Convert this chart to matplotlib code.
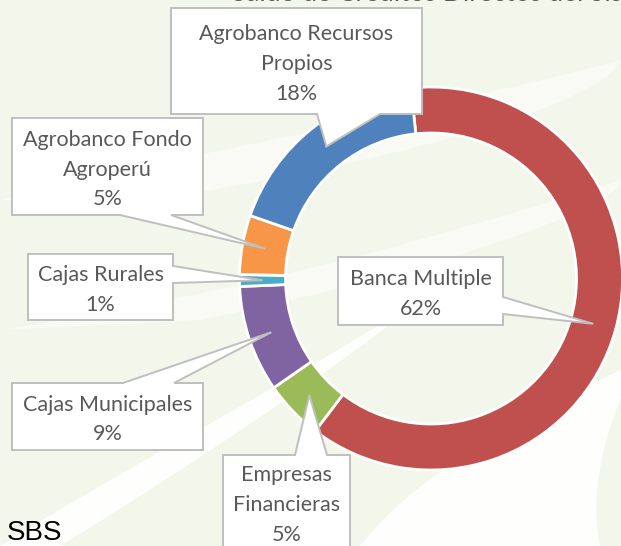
import matplotlib
matplotlib.use('Agg')
import numpy as np
from matplotlib import pyplot as plt
from matplotlib.patches import Polygon, PathPatch
from matplotlib.path import Path

# data
segments = ['Banca Multiple', 'Empresas\nFinancieras', 'Cajas Municipales',
            'Cajas Rurales', 'Agrobanco Fondo\nAgroperú', 'Agrobanco Recursos\nPropios']
shares = [62, 5, 9, 1, 5, 18]
colors = ['#C0504D', '#9BBB59', '#8064A2', '#4BACC6', '#F79646', '#4F81BD']
title_text = 'Saldo de Créditos Directos del Sistema'
source_text = 'SBS'

W, H = 621, 546

# callout boxes in pixel coords (left, top, right, bottom), side of pointer, pointer base
boxes = [
    ((338, 257, 503, 325), 'right', (297, 314)),
    ((223, 455, 350, 549), 'top', (295, 327)),
    ((12, 383, 203, 450), 'top', (123, 174)),
    ((28, 254, 173, 320), 'right', (266, 283)),
    ((12, 118, 203, 215), 'bottom', (120, 171)),
    ((171, 8, 422, 114), 'bottom', (317, 380)),
]

fig = plt.figure(figsize=(W / 100, H / 100), dpi=100)
fig.patch.set_facecolor('#F3F6EA')
ax = fig.add_axes([0, 0, 1, 1])


def fy(y):
    # pixel row -> axes y
    return H - y


# soft white swooshes in the background
def band(pts, alpha):
    verts = [(x, fy(y)) for x, y in pts]
    codes = [Path.MOVETO] + [Path.CURVE4] * (len(verts) - 2) + [Path.CLOSEPOLY]
    ax.add_patch(PathPatch(Path(verts, codes), fc='white', ec='none', alpha=alpha, zorder=0))


band([(0, 546), (120, 470), (260, 400), (420, 300), (400, 320), (250, 430), (60, 546), (0, 546)], 0.95)
band([(360, 546), (420, 470), (520, 420), (640, 360), (600, 430), (590, 500), (600, 546), (360, 546)], 0.95)
band([(0, 200), (150, 160), (350, 130), (621, 60), (600, 110), (350, 170), (150, 200), (0, 200)], 0.5)
band([(0, 330), (200, 300), (400, 250), (621, 180), (621, 210), (400, 280), (200, 320), (0, 330)], 0.5)

cx, cy = 431, fy(278.5)
r_out = 191.5
ring = 46
wedges, _ = ax.pie(shares, colors=colors, startangle=96, counterclock=False,
                   center=(cx, cy), radius=r_out, frame=True,
                   wedgeprops=dict(width=ring, edgecolor='white', linewidth=2))
ax.set_xlim(0, W)
ax.set_ylim(0, H)
ax.set_aspect('equal')
ax.axis('off')

r_mid = r_out - ring / 2
for w, name, share, (box, side, base) in zip(wedges, segments, shares, boxes):
    ang = np.deg2rad((w.theta1 + w.theta2) / 2)
    tip = (cx + r_mid * np.cos(ang), cy + r_mid * np.sin(ang))
    x0, y0, x1, y1 = box
    a, b = base
    if side == 'top':
        pts = [(x0, y0), (a, y0), None, (b, y0), (x1, y0), (x1, y1), (x0, y1)]
    elif side == 'right':
        pts = [(x0, y0), (x1, y0), (x1, a), None, (x1, b), (x1, y1), (x0, y1)]
    else:
        pts = [(x0, y0), (x1, y0), (x1, y1), (b, y1), None, (a, y1), (x0, y1)]
    verts = [tip if p is None else (p[0], fy(p[1])) for p in pts]
    ax.add_patch(Polygon(verts, closed=True, fc='white', ec='#BFBFBF', lw=1.4, zorder=5))
    ax.text((x0 + x1) / 2, fy((y0 + y1) / 2 + 3), '%s\n%d%%' % (name, share),
            ha='center', va='center', fontsize=15.5, family='Lato', color='#595959',
            linespacing=1.62, zorder=6)

# the chart title is mostly cropped off the top of the picture
ax.text(232, fy(1), title_text, ha='left', va='baseline', fontsize=19,
        family='Lato', color='#595959', zorder=6)
ax.text(7, fy(540), source_text, ha='left', va='baseline', fontsize=20,
        family='Liberation Sans', color='black', zorder=6)

fig.savefig('out.png', dpi=100, facecolor=fig.get_facecolor())
